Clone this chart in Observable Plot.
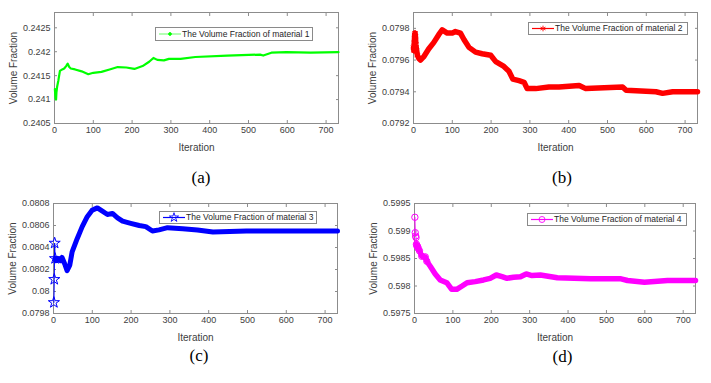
<!DOCTYPE html>
<html><head><meta charset="utf-8">
<script src="https://cdn.jsdelivr.net/npm/d3@7"></script>
<script src="https://cdn.jsdelivr.net/npm/@observablehq/plot@0.6"></script>
<style>
body{margin:0;background:#fff;}
#chart{position:relative;width:711px;height:383px;overflow:hidden;background:#fff;font-family:"Liberation Sans",Arial,sans-serif;}
.panel{position:absolute;}
.legend{position:absolute;border:1px solid #8a8a8a;background:#fff;box-sizing:border-box;}
.legend svg{position:absolute;top:0;}
.legend span{position:absolute;font-size:8.5px;color:#262626;white-space:nowrap;line-height:1;}
.tag{position:absolute;font-family:"Liberation Serif","Times New Roman",serif;font-size:17px;transform:translate(-50%,-50%);color:#000;white-space:nowrap;}
</style></head><body><div id="chart"></div>
<script>
// ---------- data ----------
const xTicks = [0, 100, 200, 300, 400, 500, 600, 700];
const xMax = 732;

const iter1 = [1,2,3,4,5,7,10,14,20,25,30,34,38,42,53,70,87,100,121,142,163,185,206,227,244,255,265,282,295,325,363,445,530,538,559,598,660,732];
const frac1 = [0.24122,0.2411,0.24102,0.241,0.24115,0.24128,0.2414,0.2416,0.24163,0.24165,0.2417,0.24175,0.24168,0.24165,0.24163,0.24159,0.24153,0.24156,0.24158,0.24163,0.24168,0.24167,0.24164,0.2417,0.24179,0.24187,0.24183,0.24182,0.24185,0.24185,0.24189,0.24192,0.24194,0.24192,0.24198,0.24199,0.24198,0.24199];

const iter2 = [0,1,2,3,4,5,6,8,10,14,18,26,39,52,65,74,87,100,108,121,130,143,160,177,199,212,233,246,256,272,285,293,315,349,375,427,444,539,548,625,642,668,732];
const frac2 = [0.07968,0.07966,0.07971,0.07976,0.07977,0.07975,0.0797,0.07966,0.07963,0.07961,0.0796,0.07962,0.07967,0.07971,0.07976,0.07979,0.07977,0.07977,0.07978,0.07977,0.07973,0.07968,0.07965,0.07964,0.07963,0.07959,0.07956,0.07953,0.07948,0.07947,0.07946,0.07942,0.07942,0.07943,0.07943,0.07944,0.07942,0.07943,0.07941,0.0794,0.07939,0.0794,0.0794];

const iter3 = [1,2,3,4,6,10,18,22,29,35,42,48,61,74,87,100,113,126,139,152,165,178,199,221,238,255,272,294,333,371,411,497,583,732];
const frac3 = [0.0799,0.08011,0.08044,0.0803,0.08028,0.0803,0.08028,0.08031,0.08025,0.08019,0.08024,0.08036,0.08048,0.08059,0.08068,0.08074,0.08076,0.08073,0.0807,0.08071,0.08067,0.08064,0.08062,0.0806,0.08059,0.08055,0.08056,0.08058,0.08057,0.08056,0.08054,0.08055,0.08055,0.08055];

const iter4 = [1,2,3,4,5,6,8,10,13,19,28,32,41,54,67,84,97,110,124,137,158,180,197,213,228,241,258,276,291,306,328,372,459,538,555,599,659,732];
const frac4 = [0.59925,0.59897,0.59891,0.59888,0.59876,0.59873,0.59872,0.59868,0.59864,0.59854,0.59853,0.59845,0.59836,0.59822,0.59811,0.59806,0.59794,0.59794,0.598,0.59806,0.59808,0.59811,0.59814,0.5982,0.59817,0.59814,0.59816,0.59817,0.59822,0.59819,0.5982,0.59815,0.59813,0.59813,0.5981,0.59807,0.5981,0.5981];

const yTicks1 = [0.2405, 0.241, 0.2415, 0.242, 0.2425];
const yTicks2 = [0.0792, 0.0794, 0.0796, 0.0798];
const yTicks3 = [0.0798, 0.08, 0.0802, 0.0804, 0.0806, 0.0808];
const yTicks4 = [0.5975, 0.598, 0.5985, 0.599, 0.5995];

const yDomain1 = [0.2405, 0.24282];
const yDomain2 = [0.0792, 0.0799];
const yDomain3 = [0.0798, 0.0808];
const yDomain4 = [0.5975, 0.5995];

const legendLabels = ["The Volume Fraction of material 1","The Volume Fraction of material 2","The Volume Fraction of material 3","The Volume Fraction of material 4"];
const panelTags = ["(a)", "(b)", "(c)", "(d)"];
const xLabel = "Iteration";
const yLabel = "Volume Fraction";

// ---------- styles / layout ----------
const colors = ["#00ff00", "#ff0000", "#0000ff", "#ff00ff"];
const chart = document.getElementById("chart");
const fmt = d => String(+d.toFixed(5));

function makePanel(cfg) {
  const data = cfg.iters.map((it, i) => ({it, v: cfg.vals[i]}));
  const k = cfg.nThin;
  const p = Plot.plot({
    width: cfg.width, height: cfg.height,
    marginLeft: cfg.mL, marginRight: cfg.mR, marginTop: cfg.mT, marginBottom: cfg.mB,
    style: {fontFamily: "Liberation Sans, Arial, sans-serif", fontSize: "9px", color: "#262626", background: "transparent"},
    x: {domain: [0, xMax]},
    y: {domain: cfg.yDomain},
    marks: [
      Plot.frame({stroke: "#8c8c8c"}),
      Plot.axisX({anchor: "bottom", ticks: xTicks, tickSize: -3, tickPadding: 6, label: null, stroke: "#8c8c8c", fill: "#404040"}),
      Plot.axisX({anchor: "top", ticks: xTicks, tickSize: -3, tickFormat: () => "", label: null, stroke: "#8c8c8c"}),
      Plot.axisY({anchor: "left", ticks: cfg.yTicks, tickSize: -3, tickPadding: 7, tickFormat: fmt, label: null, stroke: "#8c8c8c", fill: "#404040"}),
      Plot.axisY({anchor: "right", ticks: cfg.yTicks, tickSize: -3, tickFormat: () => "", label: null, stroke: "#8c8c8c"}),
      k > 0 ? Plot.line(data.slice(0, k + 1), {x: "it", y: "v", stroke: cfg.color, strokeWidth: 1}) : null,
      Plot.line(data.slice(k), {x: "it", y: "v", stroke: cfg.color, strokeWidth: cfg.sw, strokeLinejoin: "round", strokeLinecap: "round"}),
      cfg.nMarkers > 0 ? Plot.dot(data.slice(0, cfg.nMarkers), {x: "it", y: "v", symbol: cfg.symbol, stroke: cfg.color, fill: "none", r: cfg.r, strokeWidth: 1}) : null,
      Plot.text([yLabel], {text: d => d, frameAnchor: "left", textAnchor: "middle", lineAnchor: "middle", rotate: -90, dx: -41, fontSize: 10, fill: "#404040"}),
      Plot.text([xLabel], {text: d => d, frameAnchor: "bottom", textAnchor: "middle", lineAnchor: "middle", dy: 24, fontSize: 10, fill: "#404040"})
    ]
  });
  const wrap = document.createElement("div");
  wrap.className = "panel";
  wrap.style.left = cfg.left + "px";
  wrap.style.top = cfg.top + "px";
  wrap.appendChild(p);
  chart.appendChild(wrap);
}

function makeLegend(cfg) {
  const box = document.createElement("div");
  box.className = "legend";
  Object.assign(box.style, {left: cfg.x + "px", top: cfg.y + "px", width: cfg.w + "px", height: cfg.h + "px"});
  const svg = d3.create("svg").attr("width", 24).attr("height", cfg.h - 2).style("left", "2px");
  const mid = (cfg.h - 2) / 2;
  svg.append("line").attr("x1", 1).attr("x2", 23).attr("y1", mid).attr("y2", mid)
    .attr("stroke", cfg.color).attr("stroke-opacity", cfg.lineOpacity).attr("stroke-width", 1.2);
  const symMap = {circle: d3.symbolCircle, asterisk: d3.symbolAsterisk, star: d3.symbolStar};
  svg.append("path").attr("d", d3.symbol(symMap[cfg.symbol], cfg.symSize)())
    .attr("transform", `translate(12,${mid})`)
    .attr("fill", cfg.symFill).attr("stroke", cfg.color).attr("stroke-width", 0.9);
  box.appendChild(svg.node());
  const t = document.createElement("span");
  t.textContent = cfg.label;
  t.style.left = cfg.textX + "px";
  t.style.top = (cfg.h - 2) / 2 - 4.5 + "px";
  box.appendChild(t);
  chart.appendChild(box);
}

function makeTag(text, x, y) {
  const d = document.createElement("div");
  d.className = "tag";
  d.textContent = text;
  d.style.left = x + "px";
  d.style.top = y + "px";
  chart.appendChild(d);
}

makePanel({iters: iter1, vals: frac1, yDomain: yDomain1, yTicks: yTicks1, color: colors[0], symbol: "circle", sw: 2.2, nMarkers: 0, nThin: 0, r: 1,
  left: 0, top: 0, width: 350, height: 160, mL: 54, mR: 12, mT: 12, mB: 37});
makePanel({iters: iter2, vals: frac2, yDomain: yDomain2, yTicks: yTicks2, color: colors[1], symbol: "asterisk", sw: 5.5, nMarkers: 9, nThin: 0, r: 3,
  left: 355, top: 0, width: 356, height: 160, mL: 58, mR: 14, mT: 12, mB: 37});
makePanel({iters: iter3, vals: frac3, yDomain: yDomain3, yTicks: yTicks3, color: colors[2], symbol: "star", sw: 5, nMarkers: 4, nThin: 3, r: 3.5,
  left: 0, top: 190, width: 350, height: 160, mL: 53, mR: 13, mT: 13, mB: 37});
makePanel({iters: iter4, vals: frac4, yDomain: yDomain4, yTicks: yTicks4, color: colors[3], symbol: "circle", sw: 5.5, nMarkers: 12, nThin: 4, r: 3.2,
  left: 355, top: 190, width: 356, height: 160, mL: 59, mR: 16, mT: 13, mB: 37});

makeLegend({x: 155, y: 27, w: 158, h: 14, color: colors[0], lineOpacity: 0.5, symbol: "circle", symSize: 6, symFill: colors[0], label: legendLabels[0], textX: 26});
makeLegend({x: 528, y: 22, w: 160, h: 13, color: colors[1], lineOpacity: 1, symbol: "asterisk", symSize: 22, symFill: "none", label: legendLabels[1], textX: 26});
makeLegend({x: 159, y: 211, w: 158, h: 13, color: colors[2], lineOpacity: 1, symbol: "star", symSize: 26, symFill: "none", label: legendLabels[2], textX: 26});
makeLegend({x: 527, y: 213, w: 160, h: 13, color: colors[3], lineOpacity: 1, symbol: "circle", symSize: 28, symFill: "none", label: legendLabels[3], textX: 26});

makeTag(panelTags[0], 201, 177.5);
makeTag(panelTags[1], 562, 177.5);
makeTag(panelTags[2], 199, 356);
makeTag(panelTags[3], 562.5, 357);
</script></body></html>
